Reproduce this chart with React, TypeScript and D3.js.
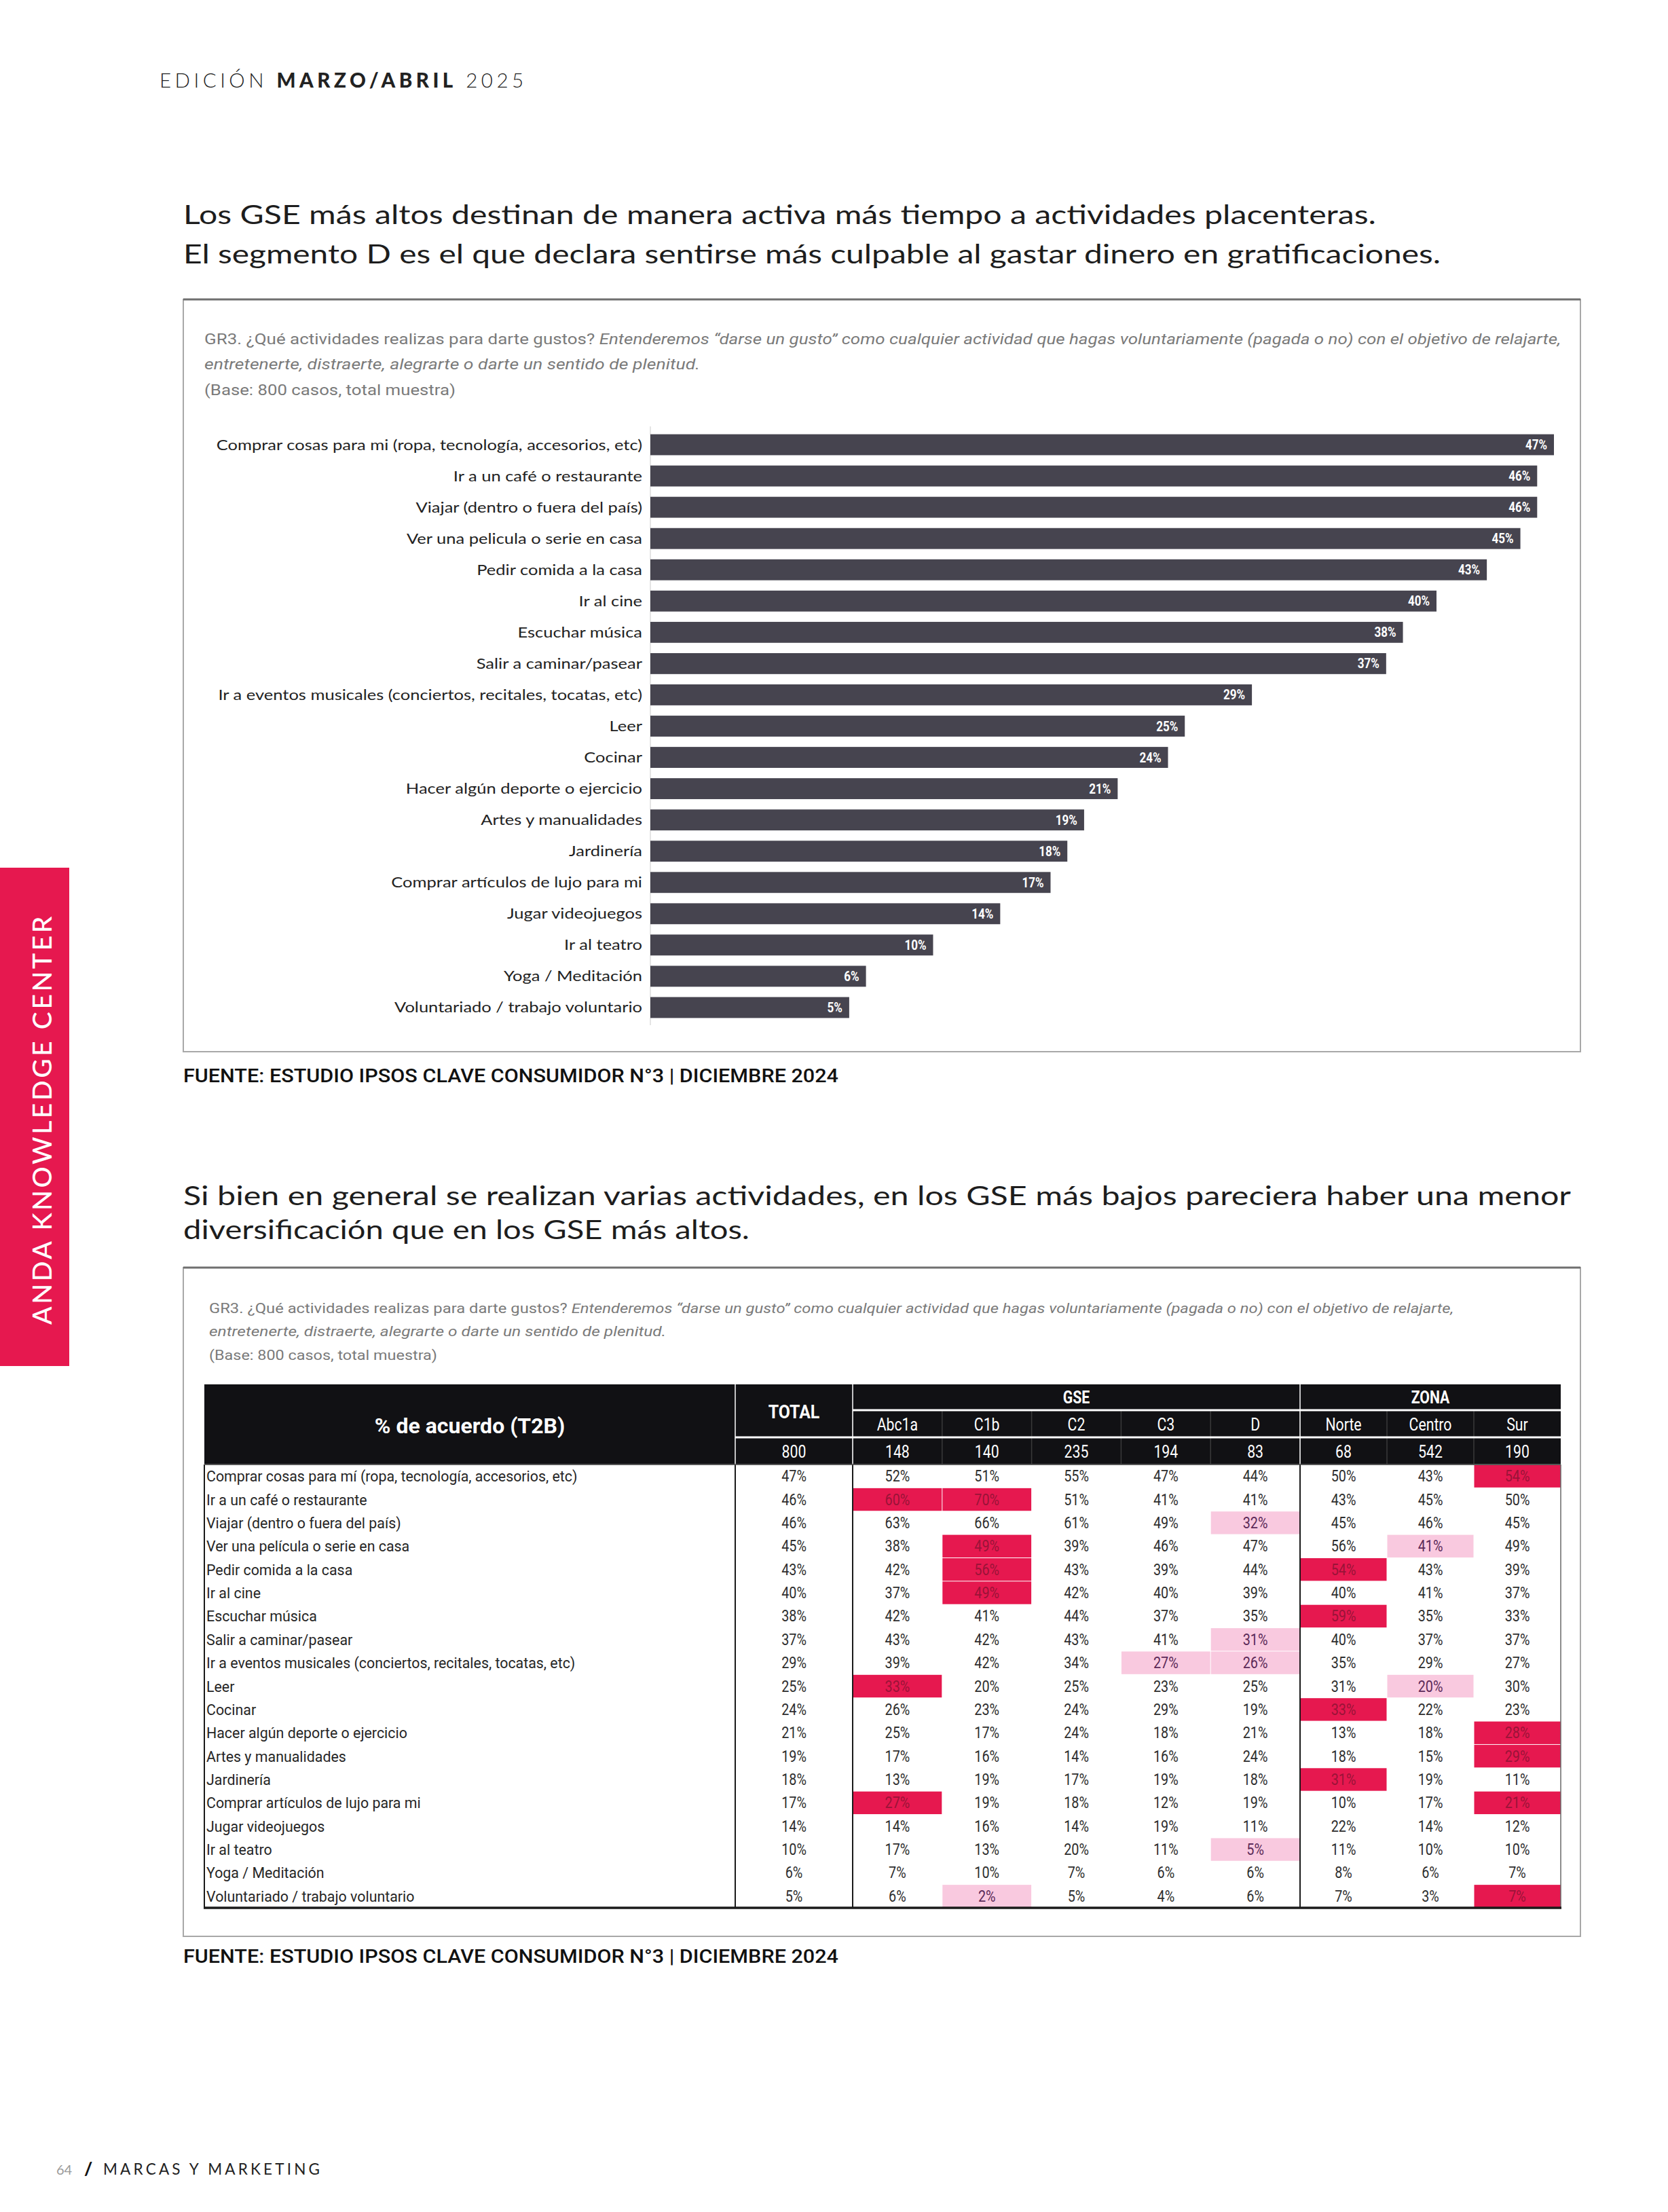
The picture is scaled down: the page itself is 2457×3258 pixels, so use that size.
import React from 'react';
import * as d3 from 'd3';

const W = 2457;
const H = 3258;

// ---------- DATA ----------
const barLabels = [
  'Comprar cosas para mi (ropa, tecnología, accesorios, etc)',
  'Ir a un café o restaurante',
  'Viajar (dentro o fuera del país)',
  'Ver una pelicula o serie en casa',
  'Pedir comida a la casa',
  'Ir al cine',
  'Escuchar música',
  'Salir a caminar/pasear',
  'Ir a eventos musicales (conciertos, recitales, tocatas, etc)',
  'Leer',
  'Cocinar',
  'Hacer algún deporte o ejercicio',
  'Artes y manualidades',
  'Jardinería',
  'Comprar artículos de lujo para mi',
  'Jugar videojuegos',
  'Ir al teatro',
  'Yoga / Meditación',
  'Voluntariado / trabajo voluntario',
];

const tableLabels = [
  'Comprar cosas para mí (ropa, tecnología, accesorios, etc)',
  'Ir a un café o restaurante',
  'Viajar (dentro o fuera del país)',
  'Ver una película o serie en casa',
  'Pedir comida a la casa',
  'Ir al cine',
  'Escuchar música',
  'Salir a caminar/pasear',
  'Ir a eventos musicales (conciertos, recitales, tocatas, etc)',
  'Leer',
  'Cocinar',
  'Hacer algún deporte o ejercicio',
  'Artes y manualidades',
  'Jardinería',
  'Comprar artículos de lujo para mi',
  'Jugar videojuegos',
  'Ir al teatro',
  'Yoga / Meditación',
  'Voluntariado / trabajo voluntario',
];

const totalValues = [47, 46, 46, 45, 43, 40, 38, 37, 29, 25, 24, 21, 19, 18, 17, 14, 10, 6, 5];
const barAxisMin = -6.85; // chart axis minimum (bars start left of zero)

const gseGroups = ['Abc1a', 'C1b', 'C2', 'C3', 'D'];
const gseBase = [148, 140, 235, 194, 83];
const zonaGroups = ['Norte', 'Centro', 'Sur'];
const zonaBase = [68, 542, 190];
const totalBase = 800;

const valAbc1a = [52, 60, 63, 38, 42, 37, 42, 43, 39, 33, 26, 25, 17, 13, 27, 14, 17, 7, 6];
const valC1b = [51, 70, 66, 49, 56, 49, 41, 42, 42, 20, 23, 17, 16, 19, 19, 16, 13, 10, 2];
const valC2 = [55, 51, 61, 39, 43, 42, 44, 43, 34, 25, 24, 24, 14, 17, 18, 14, 20, 7, 5];
const valC3 = [47, 41, 49, 46, 39, 40, 37, 41, 27, 23, 29, 18, 16, 19, 12, 19, 11, 6, 4];
const valD = [44, 41, 32, 47, 44, 39, 35, 31, 26, 25, 19, 21, 24, 18, 19, 11, 5, 6, 6];
const valNorte = [50, 43, 45, 56, 54, 40, 59, 40, 35, 31, 33, 13, 18, 31, 10, 22, 11, 8, 7];
const valCentro = [43, 45, 46, 41, 43, 41, 35, 37, 29, 20, 22, 18, 15, 19, 17, 14, 10, 6, 3];
const valSur = [54, 50, 45, 49, 39, 37, 33, 37, 27, 30, 23, 28, 29, 11, 21, 12, 10, 7, 7];

// [row, column, level]
const highlights: [number, string, 'strong' | 'light'][] = [
  [0, 'Sur', 'strong'], [1, 'Abc1a', 'strong'], [1, 'C1b', 'strong'], [2, 'D', 'light'],
  [3, 'C1b', 'strong'], [3, 'Centro', 'light'], [4, 'C1b', 'strong'], [4, 'Norte', 'strong'],
  [5, 'C1b', 'strong'], [6, 'Norte', 'strong'], [7, 'D', 'light'], [8, 'C3', 'light'],
  [8, 'D', 'light'], [9, 'Abc1a', 'strong'], [9, 'Centro', 'light'], [10, 'Norte', 'strong'],
  [11, 'Sur', 'strong'], [12, 'Sur', 'strong'], [13, 'Norte', 'strong'], [14, 'Abc1a', 'strong'],
  [14, 'Sur', 'strong'], [16, 'D', 'light'], [18, 'C1b', 'light'], [18, 'Sur', 'strong'],
];

// ---------- STYLE ----------
const GEO = "Lato, 'Open Sans', sans-serif";
const COND = "Roboto, 'Noto Sans', sans-serif";
const PINK = '#e6184f';
const LIGHT_PINK = '#f9c9df';
const BAR = '#46444f';

const CT = ({ x, y, sx = 0.86, anchor = 'start', size = 22, weight = 400, fill = '#2b2b2b', children, italic = false, family = COND }: any) => (
  <text
    transform={`translate(${x},${y}) scale(${sx},1)`}
    textAnchor={anchor}
    fontFamily={family}
    fontSize={size}
    fontWeight={weight}
    fontStyle={italic ? 'italic' : 'normal'}
    fill={fill}
  >
    {children}
  </text>
);

export default function App() {
  // bar chart scales
  const xBar = d3.scaleLinear().domain([barAxisMin, d3.max(totalValues) as number]).range([958, 2289]);
  const yBar = d3.scaleBand().domain(barLabels).range([632, 1507]).paddingInner(0.33).paddingOuter(0.165);

  // table scales
  const tLeft = 301, tRight = 2299, labelEnd = 1083, totalEnd = 1256, gseEnd = 1915;
  const gseX = d3.scaleBand().domain(gseGroups).range([totalEnd, gseEnd]);
  const zonaX = d3.scaleBand().domain(zonaGroups).range([gseEnd, tRight]);
  const rowY = d3.scaleBand().domain(d3.range(tableLabels.length).map(String)).range([2157, 2810]);

  const columns = [
    { key: 'TOTAL', x0: labelEnd, w: totalEnd - labelEnd, vals: totalValues },
    ...gseGroups.map((g, i) => ({ key: g, x0: gseX(g) as number, w: gseX.bandwidth(), vals: [valAbc1a, valC1b, valC2, valC3, valD][i], base: gseBase[i] })),
    ...zonaGroups.map((g, i) => ({ key: g, x0: zonaX(g) as number, w: zonaX.bandwidth(), vals: [valNorte, valCentro, valSur][i], base: zonaBase[i] })),
  ];
  const hlMap: Record<string, string> = {};
  highlights.forEach(([r, k, l]) => (hlMap[`${r}|${k}`] = l));

  const qStyle = { fontFamily: COND, fill: '#7a7a7a' } as any;

  return (
    <svg width={W} height={H} viewBox={`0 0 ${W} ${H}`} style={{ position: 'absolute', left: 0, top: 0, background: '#fff' }}>
      <rect x={0} y={0} width={W} height={H} fill="#fff" />

      {/* header */}
      <text x={235} y={129} fontFamily={GEO} fontSize={29.5} letterSpacing={5.5} fill="#222">
        <tspan fontWeight={300}>EDICIÓN </tspan>
        <tspan fontWeight={900}>MARZO/ABRIL</tspan>
        <tspan fontWeight={300}> 2025</tspan>
      </text>

      {/* title 1 */}
      <text x={270} y={330} fontFamily={GEO} fontSize={39} fill="#1d1d1d" textLength={1757} lengthAdjust="spacingAndGlyphs">
        Los GSE más altos destinan de manera activa más tiempo a actividades placenteras.
      </text>
      <text x={270} y={388} fontFamily={GEO} fontSize={39} fill="#1d1d1d" textLength={1852} lengthAdjust="spacingAndGlyphs">
        El segmento D es el que declara sentirse más culpable al gastar dinero en gratificaciones.
      </text>

      {/* chart 1 box */}
      <rect x={270} y={441} width={2058} height={1108} fill="none" stroke="#a8a8a8" strokeWidth={2} />
      <line x1={270} x2={2328} y1={441} y2={441} stroke="#6f6f6f" strokeWidth={3} />

      <text x={301} y={507} fontSize={22} textLength={1998} lengthAdjust="spacingAndGlyphs" {...qStyle}>
        <tspan>GR3. ¿Qué actividades realizas para darte gustos? </tspan>
        <tspan fontStyle="italic">Entenderemos “darse un gusto” como cualquier actividad que hagas voluntariamente (pagada o no) con el objetivo de relajarte,</tspan>
      </text>
      <text x={301} y={544} fontSize={22} fontStyle="italic" textLength={730} lengthAdjust="spacingAndGlyphs" {...qStyle}>
        entretenerte,  distraerte, alegrarte o darte un sentido de plenitud.
      </text>
      <text x={301} y={582} fontSize={22} textLength={370} lengthAdjust="spacingAndGlyphs" {...qStyle}>
        (Base: 800 casos, total muestra)
      </text>

      {/* axis line */}
      <line x1={xBar(barAxisMin)} x2={xBar(barAxisMin)} y1={628} y2={1510} stroke="#dcdcdc" strokeWidth={1.5} />

      {barLabels.map((lab, i) => {
        const v = totalValues[i];
        const y = yBar(lab) as number;
        const bw = yBar.bandwidth();
        const cy = y + bw / 2;
        return (
          <g key={lab}>
            <rect x={xBar(barAxisMin)} y={y} width={xBar(v) - xBar(barAxisMin)} height={bw} fill={BAR} />
            <CT x={946} y={cy + 7.5} anchor="end" family={GEO} size={22} sx={1.16} fill="#222">
              {lab}
            </CT>
            <CT x={xBar(v) - 10} y={cy + 7} anchor="end" size={20} weight={700} fill="#fff" sx={0.85}>
              {v}%
            </CT>
          </g>
        );
      })}

      <text x={270} y={1594} fontFamily={COND} fontWeight={500} fontSize={28} fill="#111" textLength={965} lengthAdjust="spacingAndGlyphs">
        FUENTE: ESTUDIO IPSOS CLAVE CONSUMIDOR N°3 | DICIEMBRE 2024
      </text>

      {/* title 2 */}
      <text x={270} y={1775} fontFamily={GEO} fontSize={39} fill="#1d1d1d" textLength={2044} lengthAdjust="spacingAndGlyphs">
        Si bien en general se realizan varias actividades, en los GSE más bajos pareciera haber una menor
      </text>
      <text x={270} y={1825} fontFamily={GEO} fontSize={39} fill="#1d1d1d" textLength={834} lengthAdjust="spacingAndGlyphs">
        diversificación que en los GSE más altos.
      </text>

      {/* chart 2 box */}
      <rect x={270} y={1867} width={2058} height={985} fill="none" stroke="#a8a8a8" strokeWidth={2} />
      <line x1={270} x2={2328} y1={1867} y2={1867} stroke="#6f6f6f" strokeWidth={3} />

      <text x={308} y={1934} fontSize={20.5} textLength={1833} lengthAdjust="spacingAndGlyphs" {...qStyle}>
        <tspan>GR3. ¿Qué actividades realizas para darte gustos? </tspan>
        <tspan fontStyle="italic">Entenderemos “darse un gusto” como cualquier actividad que hagas voluntariamente (pagada o no) con el objetivo de relajarte,</tspan>
      </text>
      <text x={308} y={1968} fontSize={20.5} fontStyle="italic" textLength={673} lengthAdjust="spacingAndGlyphs" {...qStyle}>
        entretenerte, distraerte, alegrarte o darte un sentido de plenitud.
      </text>
      <text x={308} y={2003} fontSize={20.5} textLength={336} lengthAdjust="spacingAndGlyphs" {...qStyle}>
        (Base: 800 casos, total muestra)
      </text>

      {/* table header */}
      <rect x={tLeft} y={2039} width={tRight - tLeft} height={2157 - 2039} fill="#111114" />
      {columns.slice(1).map((c) => (
        <line key={'hv' + c.key} x1={c.x0} x2={c.x0} y1={2078} y2={2157} stroke="#3a3a3a" strokeWidth={1.5} />
      ))}
      <line x1={totalEnd} x2={tRight} y1={2077} y2={2077} stroke="#fff" strokeWidth={3} />
      <line x1={labelEnd} x2={tRight} y1={2117} y2={2117} stroke="#fff" strokeWidth={3} />
      {[labelEnd, totalEnd, gseEnd].map((x) => (
        <line key={'hw' + x} x1={x} x2={x} y1={2039} y2={2157} stroke="#fff" strokeWidth={1.5} />
      ))}
      <CT x={(tLeft + labelEnd) / 2} y={2111} anchor="middle" size={32} weight={700} fill="#fff" sx={1.0}>
        % de acuerdo (T2B)
      </CT>
      <CT x={(labelEnd + totalEnd) / 2} y={2089} anchor="middle" size={27} weight={700} fill="#fff" sx={0.92}>
        TOTAL
      </CT>
      <CT x={(labelEnd + totalEnd) / 2} y={2147} anchor="middle" size={25} fill="#fff" sx={0.85}>
        {totalBase}
      </CT>
      <CT x={(totalEnd + gseEnd) / 2} y={2067} anchor="middle" size={25} weight={700} fill="#fff" sx={0.85}>
        GSE
      </CT>
      <CT x={(gseEnd + tRight) / 2} y={2067} anchor="middle" size={25} weight={700} fill="#fff" sx={0.85}>
        ZONA
      </CT>
      {columns.slice(1).map((c) => (
        <g key={'h' + c.key}>
          <CT x={c.x0 + c.w / 2} y={2107} anchor="middle" size={25} fill="#fff" sx={0.85}>
            {c.key}
          </CT>
          <CT x={c.x0 + c.w / 2} y={2147} anchor="middle" size={25} fill="#fff" sx={0.85}>
            {c.base}
          </CT>
        </g>
      ))}

      {/* table body */}
      {tableLabels.map((lab, r) => {
        const y = rowY(String(r)) as number;
        const h = rowY.bandwidth();
        return (
          <g key={'r' + r}>
            {columns.map((c) => {
              const hl = hlMap[`${r}|${c.key}`];
              return hl ? (
                <rect key={'hl' + c.key} x={c.x0 + 0.5} y={y + 0.5} width={c.w - 1} height={h - 1} fill={hl === 'strong' ? PINK : LIGHT_PINK} />
              ) : null;
            })}
            <CT x={tLeft + 3} y={y + h / 2 + 8} size={23} fill="#262626" sx={0.93}>
              {lab}
            </CT>
            {columns.map((c) => {
              const hl = hlMap[`${r}|${c.key}`];
              const fill = hl === 'strong' ? '#9a1338' : hl === 'light' ? '#5c2a58' : '#2e2e2e';
              return (
                <CT key={'v' + c.key} x={c.x0 + c.w / 2} y={y + h / 2 + 8} anchor="middle" size={23} fill={fill} sx={0.86}>
                  {c.vals[r]}%
                </CT>
              );
            })}
          </g>
        );
      })}
      {[tLeft, labelEnd, totalEnd, gseEnd, tRight].map((x) => (
        <line key={'bv' + x} x1={x} x2={x} y1={2157} y2={2810} stroke="#1a1a1a" strokeWidth={x === tRight ? 1 : 2} />
      ))}
      <line x1={tLeft} x2={tRight} y1={2157} y2={2157} stroke="#555" strokeWidth={2} />
      <line x1={tLeft - 1} x2={tRight + 1} y1={2810} y2={2810} stroke="#1a1a1a" strokeWidth={3.5} />

      <text x={270} y={2891} fontFamily={COND} fontWeight={500} fontSize={28} fill="#111" textLength={965} lengthAdjust="spacingAndGlyphs">
        FUENTE: ESTUDIO IPSOS CLAVE CONSUMIDOR N°3 | DICIEMBRE 2024
      </text>

      {/* side tab */}
      <rect x={0} y={1278} width={102} height={734} fill={PINK} />
      <text
        transform={`translate(76,${(1347 + 1950) / 2}) rotate(-90)`}
        textAnchor="middle"
        fontFamily={GEO}
        fontSize={39}
        fontWeight={500}
        fill="#fff"
        letterSpacing={3.6}
      >
        ANDA KNOWLEDGE CENTER
      </text>

      {/* footer */}
      <text x={83} y={3203} fontFamily={GEO} fontSize={20} fill="#9a9a9a">
        64
      </text>
      <text x={124} y={3204} fontFamily={GEO} fontSize={26} fontWeight={900} fill="#111">
        /
      </text>
      <text x={152} y={3203} fontFamily={GEO} fontSize={22.5} fill="#222" letterSpacing={4.2}>
        MARCAS Y MARKETING
      </text>
    </svg>
  );
}
